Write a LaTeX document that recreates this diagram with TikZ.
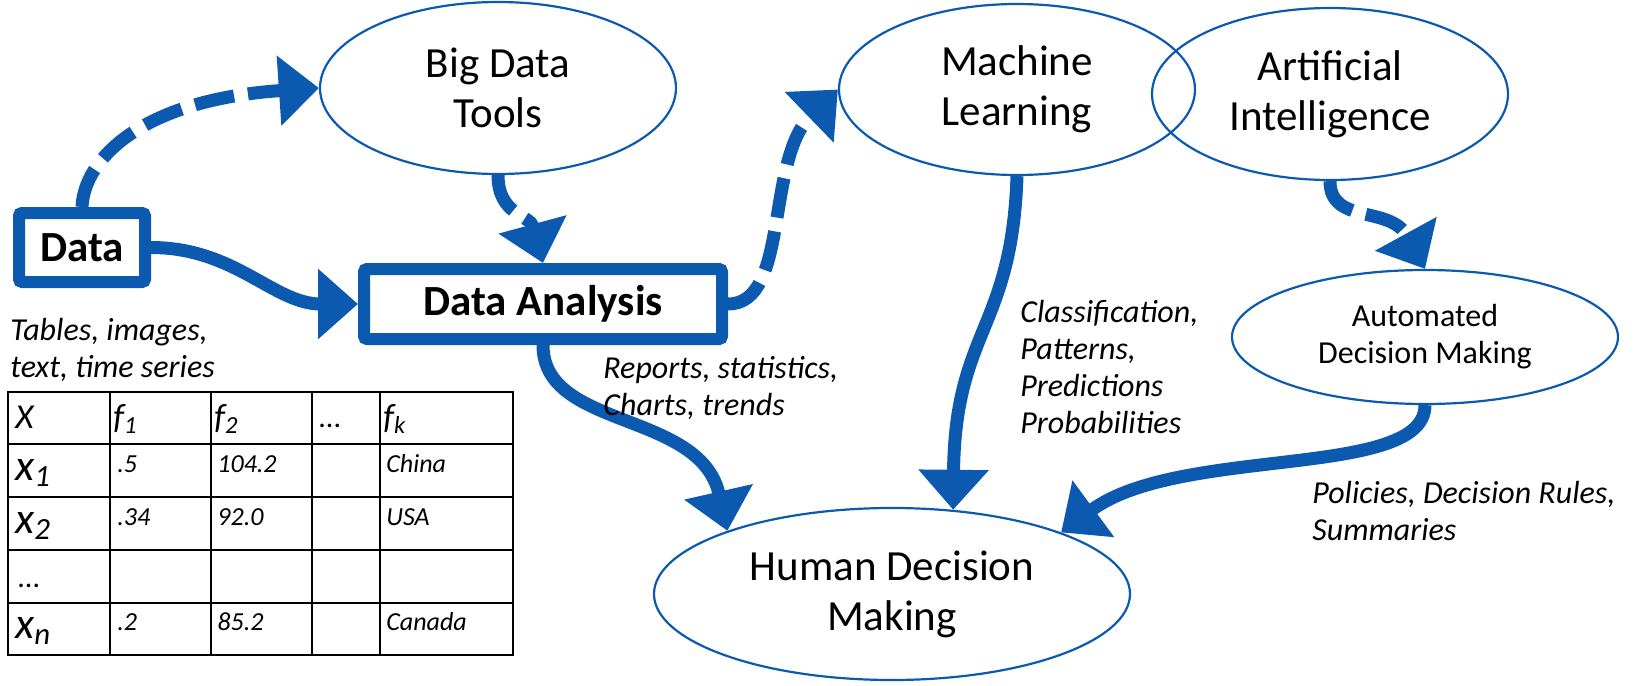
\documentclass[tikz,border=0pt]{standalone}
\usepackage{fontspec}
\setmainfont{Carlito}
\usetikzlibrary{arrows.meta,positioning,shapes.geometric}
\definecolor{pptblue}{RGB}{12,90,176}

\tikzset{
  bubble/.style={ellipse,draw=pptblue,line width=1.1pt,inner sep=0pt,align=center,
    font=\fontsize{21.5pt}{25pt}\selectfont},
  bluebox/.style={rectangle,draw=pptblue,line width=6pt,rounded corners=1.5pt,inner sep=0pt,
    font=\fontsize{21.5pt}{25pt}\selectfont\bfseries},
  flow/.style={draw=pptblue,line width=6.5pt,-{Triangle[width=34pt,length=20pt]}},
  dflow/.style={flow,dash pattern=on 20pt off 7pt},
  notetext/.style={anchor=base west,align=left,inner sep=0pt,
    font=\fontsize{16pt}{18.5pt}\selectfont\itshape},
  tabcell/.style={anchor=base west,inner sep=0pt,font=\fontsize{13pt}{15pt}\selectfont\itshape},
  tabhead/.style={anchor=base west,inner sep=0pt,font=\fontsize{17.5pt}{20pt}\selectfont\itshape},
  tabrow/.style={anchor=base west,inner sep=0pt,font=\fontsize{22pt}{24pt}\selectfont\itshape},
  grid line/.style={line width=1.3pt},
}

\begin{document}
\begin{tikzpicture}[x=0.5pt,y=-0.5pt]
  \useasboundingbox (0,0) rectangle (1646,686);

  % ellipses
  \node[bubble,minimum width=178pt,minimum height=86pt] (bdt) at (498,88) {Big Data\\Tools};
  \node[bubble,minimum width=178pt,minimum height=85.5pt] (ml) at (1017,89.5) {Machine\\Learning};
  \node[bubble,minimum width=178pt,minimum height=86pt] (ai) at (1330,94) {Artificial\\Intelligence};
  \node[bubble,minimum width=193pt,minimum height=67pt,
    font=\fontsize{16pt}{18.5pt}\selectfont] (adm) at (1425,337) {Automated\\Decision Making};
  \node[bubble,minimum width=238pt,minimum height=86pt] (hdm) at (892,594) {Human Decision\\Making};

  % boxes
  \node[bluebox,minimum width=63pt,minimum height=34.5pt] (data) at (82,247.5) {Data};
  \node[bluebox,minimum width=179pt,minimum height=35pt] (da) at (543,304) {Data Analysis};

  % arrows
  \draw[dflow] (data.north) .. controls (84,160) and (140,100) .. (bdt.west);
  \draw[dflow] (bdt.south) .. controls (498,215) and (530,215) .. (da.north);
  \draw[flow] (data.east) to[out=0,in=180] (da.west);
  \draw[dflow] (da.east) .. controls (790,304) and (765,160) .. (ml.west);
  \draw[flow] (ml.south) .. controls (1012,330) and (955,330) .. (hdm.54);
  \draw[dflow] (ai.south) .. controls (1330,225) and (1390,205) .. (adm.north);
  \draw[flow] (adm.south) .. controls (1425,480) and (1180,445) .. (hdm.20);
  \draw[flow] (da.south) .. controls (543,430) and (700,410) .. (hdm.159);

  % labels (anchored at the last line)
  \node[notetext] (lbldata) at (10,377) {Tables, images,\\text, time series};
  \node[notetext] (lblda) at (603,415) {Reports, statistics,\\Charts, trends};
  \node[notetext] (lblml) at (1020,433) {Classification,\\Patterns,\\Predictions\\Probabilities};
  \node[notetext] (lbladm) at (1312,540) {Policies, Decision Rules,\\Summaries};

  % table
  \draw[grid line] (8,392) rectangle (513,655);
  \foreach \x in {110,211,312,380} \draw[grid line] (\x,392) -- (\x,655);
  \foreach \y in {444,497,550,603} \draw[grid line] (8,\y) -- (513,\y);

  \node[tabhead] (hx) at (15,428) {X};
  \node[tabhead] (hf1) at (113,428) {f\textsubscript{1}};
  \node[tabhead] (hf2) at (214,428) {f\textsubscript{2}};
  \node[tabhead,font=\fontsize{15pt}{17pt}\selectfont] (hdots) at (318,427) {...};
  \node[tabhead] (hfk) at (383,428) {f\textsubscript{k}};

  \node[tabrow] (x1) at (15,480) {x\textsubscript{1}};
  \node[tabrow] (x2) at (15,533) {x\textsubscript{2}};
  \node[tabrow,font=\fontsize{15pt}{17pt}\selectfont] (xdots) at (17,587) {...};
  \node[tabrow] (xn) at (15,638) {x\textsubscript{n}};

  \node[tabcell] (a1) at (117,472) {.5};
  \node[tabcell] (b1) at (217,472) {104.2};
  \node[tabcell] (c1) at (386,472) {China};
  \node[tabcell] (a2) at (117,525) {.34};
  \node[tabcell] (b2) at (217,525) {92.0};
  \node[tabcell] (c2) at (386,525) {USA};
  \node[tabcell] (an) at (117,630) {.2};
  \node[tabcell] (bn) at (217,630) {85.2};
  \node[tabcell] (cn) at (386,630) {Canada};
\end{tikzpicture}
\end{document}
